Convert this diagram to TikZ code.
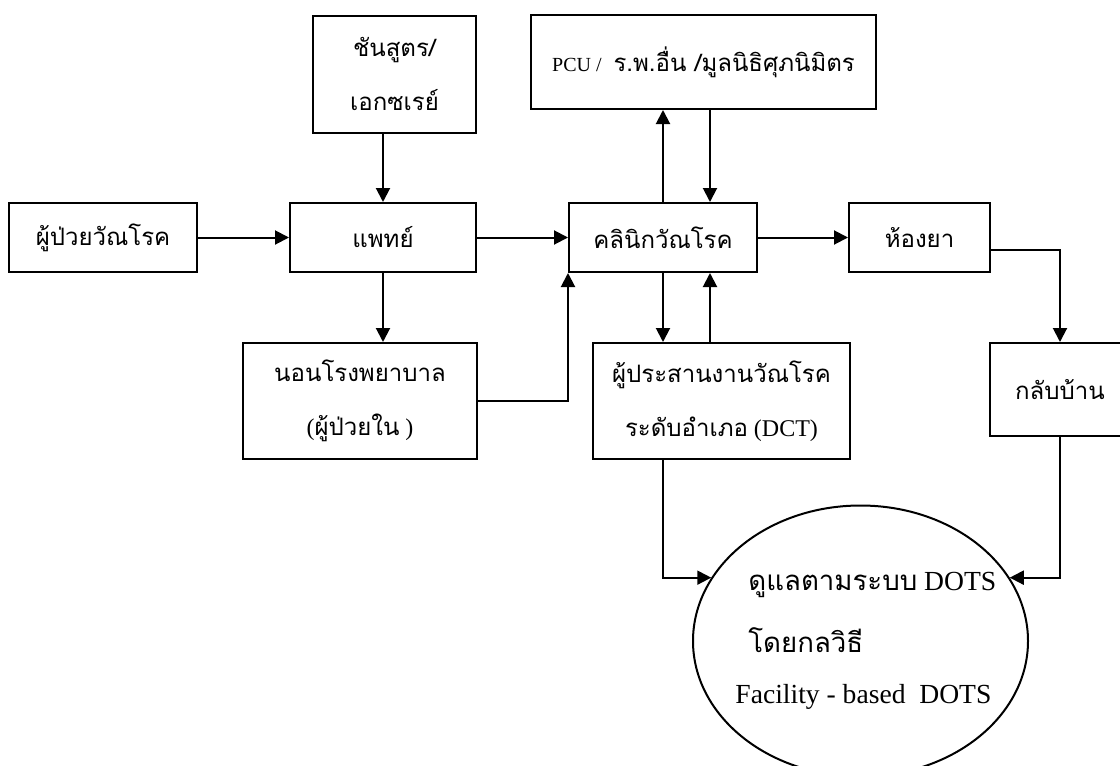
\documentclass[tikz,border=0pt]{standalone}
\usepackage{fontspec}
\setmainfont{Liberation Serif}
\newfontfamily\thaifont[Script=Thai]{Loma}
\usepackage{tikz}
\usetikzlibrary{arrows.meta,positioning,shapes.geometric}
\newcommand{\thtext}[1]{{\thaifont #1}}

\begin{document}
\begin{tikzpicture}[x=0.5pt, y=-0.5pt,
    stagebox/.style={draw, line width=1pt, inner sep=0pt, align=center,
        font=\fontsize{12}{27}\selectfont},
    flow/.style={line width=1pt, -{Triangle[length=7pt,width=7pt]}},
    linetext/.style={anchor=west, inner sep=0pt, font=\fontsize{13.8}{13.8}\selectfont}]
    \useasboundingbox (0,0) rectangle (1120,766);

    %% Nodes
        \node[stagebox, minimum width=94pt, minimum height=34.5pt]
              (patient) at (103,237.5) {\thtext{ผู้ป่วยวัณโรค}};
        \node[stagebox, minimum width=81.5pt, minimum height=58.5pt]
              (lab) at (394.5,74) {\thtext{ชันสูตร/}\\\thtext{เอกซเรย์}};
        \node[stagebox, minimum width=93pt, minimum height=34.5pt]
              (doctor) at (383,237.5) {\thtext{แพทย์}};
        \node[stagebox, minimum width=117pt, minimum height=58pt]
              (ward) at (360,401) {\thtext{นอนโรงพยาบาล}\\(\thtext{ผู้ป่วยใน} )};
        \node[stagebox, minimum width=94pt, minimum height=34.5pt]
              (clinic) at (663,237.5) {\thtext{คลินิกวัณโรค}};
        \node[stagebox, minimum width=172.5pt, minimum height=47pt]
              (pcu) at (703.5,62) {{\fontsize{10}{10}\selectfont PCU /}\ \ \thtext{ร.พ.อื่น /มูลนิธิศุภนิมิตร}};
        \node[stagebox, minimum width=128.5pt, minimum height=58pt]
              (dct) at (721.5,401) {\thtext{ผู้ประสานงานวัณโรค}\\\thtext{ระดับอำเภอ} (DCT)};
        \node[stagebox, minimum width=70.5pt, minimum height=34.5pt]
              (pharmacy) at (919.5,237.5) {\thtext{ห้องยา}};
        \node[stagebox, minimum width=70pt, minimum height=46.5pt]
              (home) at (1060,389.5) {\thtext{กลับบ้าน}};
        \node[ellipse, draw, line width=1pt, minimum width=167.5pt, minimum height=135.5pt]
              (care) at (860.5,641) {};
        \node[linetext] (careA) at (748,585) {\thtext{ดูแลตามระบบ} DOTS};
        \node[linetext] (careB) at (748,640) {\thtext{โดยกลวิธี}};
        \node[linetext] (careC) at (735,697) {Facility - based\ \ DOTS};
        \coordinate (rt) at (710,0);

    %% Edges
        \draw[flow] (patient.east) -- (doctor.west);
        \draw[flow] (lab.south -| doctor.north) -- (doctor.north);
        \draw[flow] (doctor.south) -- (doctor.south |- ward.north);
        \draw[flow] (doctor.east) -- (clinic.west);
        \draw[flow] (ward.east) -| (clinic.south west);
        \draw[flow] (clinic.north) -- (clinic.north |- pcu.south);
        \draw[flow] (rt |- pcu.south) -- (rt |- clinic.north);
        \draw[flow] (clinic.south) -- (clinic.south |- dct.north);
        \draw[flow] (rt |- dct.north) -- (rt |- clinic.south);
        \draw[flow] (clinic.east) -- (pharmacy.west);
        \draw[flow] ([yshift=-6.25pt]pharmacy.east) -| (home.north);
        \draw[flow] (home.south) |- (care.23);
        \draw[flow] (clinic.south |- dct.south) |- (care.157);
\end{tikzpicture}
\end{document}
